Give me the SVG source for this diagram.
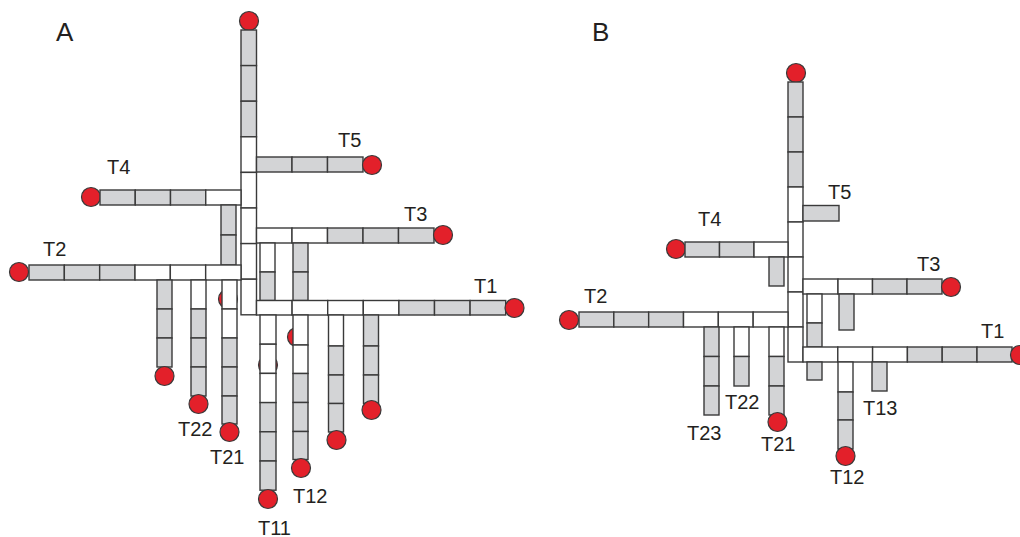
<svg xmlns="http://www.w3.org/2000/svg" width="1020" height="537" viewBox="0 0 1020 537">
<style>
.g{fill:#d3d4d6;stroke:#3a3a3a;stroke-width:1.4}
.w{fill:#ffffff;stroke:#3a3a3a;stroke-width:1.4}
.d{fill:#e3202a;stroke:#3a3a3a;stroke-width:1.2}
.t{font-family:"Liberation Sans",Arial,sans-serif;font-size:20px;fill:#231f20}
.p{font-family:"Liberation Sans",Arial,sans-serif;font-size:26px;fill:#231f20}
</style>
<rect width="1020" height="537" fill="#fff"/>
<text class="p" x="56" y="41">A</text>
<text class="p" x="592" y="41">B</text>

<!-- ================= PANEL A ================= -->
<g id="A-hidden-dots">
<circle class="d" cx="228" cy="299" r="9.5"/>
<circle class="d" cx="268" cy="365" r="9.5"/>
<circle class="d" cx="297" cy="337" r="9.5"/>
</g>
<g id="A-trunk">
<circle class="d" cx="249" cy="21" r="9.5"/>
<rect class="g" x="241" y="30" width="15.5" height="35.6"/>
<rect class="g" x="241" y="65.6" width="15.5" height="35.6"/>
<rect class="g" x="241" y="101.2" width="15.5" height="35.6"/>
<rect class="w" x="241" y="136.8" width="15.5" height="35.6"/>
<rect class="w" x="241" y="172.4" width="15.5" height="35.6"/>
<rect class="w" x="241" y="208" width="15.5" height="35.6"/>
<rect class="w" x="241" y="243.6" width="15.5" height="35.6"/>
<rect class="w" x="241" y="279.2" width="15.5" height="35.6"/>
</g>
<g id="A-T5">
<rect class="g" x="256.5" y="157" width="35.5" height="15"/>
<rect class="g" x="292" y="157" width="35.5" height="15"/>
<rect class="g" x="327.5" y="157" width="35.5" height="15"/>
<circle class="d" cx="372" cy="165" r="9.5"/>
<text class="t" x="338" y="147">T5</text>
</g>
<g id="A-T3">
<rect class="w" x="256.5" y="228" width="35.5" height="15"/>
<rect class="w" x="292" y="228" width="35.5" height="15"/>
<rect class="g" x="327.5" y="228" width="35.5" height="15"/>
<rect class="g" x="363" y="228" width="35.5" height="15"/>
<rect class="g" x="398.5" y="228" width="35.5" height="15"/>
<circle class="d" cx="443" cy="235" r="9.5"/>
<text class="t" x="404" y="221">T3</text>
<rect class="w" x="260" y="243" width="15" height="29"/>
<rect class="g" x="260" y="272" width="15" height="28.5"/>
<rect class="g" x="293" y="243" width="15" height="29"/>
<rect class="g" x="293" y="272" width="15" height="28.5"/>
</g>
<g id="A-T4">
<circle class="d" cx="91" cy="197" r="9.5"/>
<rect class="g" x="100" y="190" width="35.25" height="15"/>
<rect class="g" x="135.25" y="190" width="35.25" height="15"/>
<rect class="g" x="170.5" y="190" width="35.25" height="15"/>
<rect class="w" x="205.75" y="190" width="35.25" height="15"/>
<text class="t" x="107" y="174">T4</text>
<rect class="g" x="221" y="205" width="15" height="30"/>
<rect class="g" x="221" y="235" width="15" height="30"/>
</g>
<g id="A-T2">
<circle class="d" cx="19" cy="272" r="9.5"/>
<rect class="g" x="29" y="265" width="35.33" height="15"/>
<rect class="g" x="64.33" y="265" width="35.33" height="15"/>
<rect class="g" x="99.67" y="265" width="35.33" height="15"/>
<rect class="w" x="135" y="265" width="35.33" height="15"/>
<rect class="w" x="170.33" y="265" width="35.33" height="15"/>
<rect class="w" x="205.67" y="265" width="35.33" height="15"/>
<text class="t" x="43" y="256">T2</text>
</g>
<g id="A-V1">
<rect class="g" x="157" y="280" width="15" height="29"/>
<rect class="g" x="157" y="309" width="15" height="29"/>
<rect class="g" x="157" y="338" width="15" height="29"/>
<circle class="d" cx="164.5" cy="376" r="9.5"/>
</g>
<g id="A-T22">
<rect class="w" x="191" y="280" width="15" height="29"/>
<rect class="g" x="191" y="309" width="15" height="29"/>
<rect class="g" x="191" y="338" width="15" height="29"/>
<rect class="g" x="191" y="367" width="15" height="29"/>
<circle class="d" cx="198.5" cy="404" r="9.5"/>
<text class="t" x="178" y="436">T22</text>
</g>
<g id="A-T21">
<rect class="w" x="222" y="280" width="15" height="29"/>
<rect class="w" x="222" y="309" width="15" height="29"/>
<rect class="g" x="222" y="338" width="15" height="29"/>
<rect class="g" x="222" y="367" width="15" height="29"/>
<rect class="g" x="222" y="396" width="15" height="28"/>
<circle class="d" cx="229.5" cy="432" r="9.5"/>
<text class="t" x="210" y="464">T21</text>
</g>
<g id="A-T1">
<rect class="w" x="256.5" y="300.5" width="35.6" height="14.5"/>
<rect class="w" x="292.1" y="300.5" width="35.6" height="14.5"/>
<rect class="w" x="327.7" y="300.5" width="35.6" height="14.5"/>
<rect class="w" x="363.3" y="300.5" width="35.6" height="14.5"/>
<rect class="g" x="398.9" y="300.5" width="35.6" height="14.5"/>
<rect class="g" x="434.5" y="300.5" width="35.6" height="14.5"/>
<rect class="g" x="470.1" y="300.5" width="35.6" height="14.5"/>
<circle class="d" cx="514.5" cy="308" r="9.5"/>
<text class="t" x="474" y="293">T1</text>
</g>
<g id="A-T11">
<rect class="w" x="260" y="315" width="16" height="29.2"/>
<rect class="w" x="260" y="344.2" width="16" height="29.2"/>
<rect class="w" x="260" y="373.4" width="16" height="29.2"/>
<rect class="g" x="260" y="402.6" width="16" height="29.2"/>
<rect class="g" x="260" y="431.8" width="16" height="29.2"/>
<rect class="g" x="260" y="461" width="16" height="29.2"/>
<circle class="d" cx="268" cy="499" r="9.5"/>
<text class="t" x="258" y="535">T11</text>
</g>
<g id="A-T12">
<rect class="w" x="293" y="315" width="15" height="30"/>
<rect class="w" x="293" y="345" width="15" height="28.5"/>
<rect class="g" x="293" y="373.5" width="15" height="29"/>
<rect class="g" x="293" y="402.5" width="15" height="29"/>
<rect class="g" x="293" y="431.5" width="15" height="28"/>
<circle class="d" cx="301" cy="468" r="9.5"/>
<text class="t" x="293" y="503">T12</text>
</g>
<g id="A-V6">
<rect class="w" x="328.5" y="315" width="15" height="31"/>
<rect class="g" x="328.5" y="346" width="15" height="29"/>
<rect class="g" x="328.5" y="375" width="15" height="28.5"/>
<rect class="g" x="328.5" y="403.5" width="15" height="28.5"/>
<circle class="d" cx="336.5" cy="440" r="9.5"/>
</g>
<g id="A-V7">
<rect class="g" x="363.5" y="315" width="15" height="31"/>
<rect class="g" x="363.5" y="346" width="15" height="29"/>
<rect class="g" x="363.5" y="375" width="15" height="28.5"/>
<circle class="d" cx="371.5" cy="410" r="9.5"/>
</g>

<!-- ================= PANEL B ================= -->
<g id="B-trunk">
<circle class="d" cx="796" cy="73" r="9.5"/>
<rect class="g" x="788" y="82" width="15" height="35"/>
<rect class="g" x="788" y="117" width="15" height="35"/>
<rect class="g" x="788" y="152" width="15" height="35"/>
<rect class="w" x="788" y="187" width="15" height="35"/>
<rect class="w" x="788" y="222" width="15" height="35"/>
<rect class="w" x="788" y="257" width="15" height="35"/>
<rect class="w" x="788" y="292" width="15" height="35"/>
<rect class="w" x="788" y="327" width="15" height="35"/>
</g>
<g id="B-T5">
<rect class="g" x="803" y="205.5" width="36" height="15.5"/>
<text class="t" x="828" y="199">T5</text>
</g>
<g id="B-T4">
<circle class="d" cx="676" cy="249" r="9.5"/>
<rect class="g" x="685" y="242" width="34.5" height="15"/>
<rect class="g" x="719.5" y="242" width="34.5" height="15"/>
<rect class="w" x="754" y="242" width="34" height="15"/>
<rect class="g" x="769" y="257" width="15" height="29"/>
<text class="t" x="698" y="226">T4</text>
</g>
<g id="B-T2">
<circle class="d" cx="569" cy="320" r="9.5"/>
<rect class="g" x="579" y="312" width="34.83" height="15"/>
<rect class="g" x="613.83" y="312" width="34.83" height="15"/>
<rect class="g" x="648.67" y="312" width="34.83" height="15"/>
<rect class="w" x="683.5" y="312" width="34.83" height="15"/>
<rect class="w" x="718.33" y="312" width="34.83" height="15"/>
<rect class="w" x="753.17" y="312" width="34.83" height="15"/>
<text class="t" x="584" y="303">T2</text>
</g>
<g id="B-T23">
<rect class="g" x="704" y="327" width="15" height="29.5"/>
<rect class="g" x="704" y="356.5" width="15" height="29.5"/>
<rect class="g" x="704" y="386" width="15" height="29"/>
<text class="t" x="687" y="440">T23</text>
</g>
<g id="B-T22">
<rect class="w" x="734" y="327" width="15" height="29.5"/>
<rect class="g" x="734" y="356.5" width="15" height="29.5"/>
<text class="t" x="725" y="409">T22</text>
</g>
<g id="B-T21">
<rect class="w" x="769" y="327" width="15" height="29.5"/>
<rect class="g" x="769" y="356.5" width="15" height="29.5"/>
<rect class="g" x="769" y="386" width="15" height="29"/>
<circle class="d" cx="777.5" cy="422" r="9.5"/>
<text class="t" x="761" y="451">T21</text>
</g>
<g id="B-T3">
<rect class="w" x="803" y="279" width="35" height="15"/>
<rect class="w" x="838" y="279" width="34.5" height="15"/>
<rect class="g" x="872.5" y="279" width="34.5" height="15"/>
<rect class="g" x="907" y="279" width="35" height="15"/>
<circle class="d" cx="951" cy="287" r="9.5"/>
<text class="t" x="917" y="271">T3</text>
<rect class="w" x="807" y="294" width="15" height="29"/>
<rect class="g" x="807" y="323" width="15" height="24"/>
<rect class="g" x="839" y="294" width="15" height="36"/>
</g>
<g id="B-T1">
<rect class="w" x="803" y="347" width="34.8" height="15"/>
<rect class="w" x="837.8" y="347" width="34.8" height="15"/>
<rect class="w" x="872.6" y="347" width="34.8" height="15"/>
<rect class="g" x="907.4" y="347" width="34.8" height="15"/>
<rect class="g" x="942.2" y="347" width="34.8" height="15"/>
<rect class="g" x="977" y="347" width="35" height="15"/>
<circle class="d" cx="1020" cy="355" r="9.5"/>
<text class="t" x="981" y="338">T1</text>
<rect class="g" x="807" y="362" width="15" height="18"/>
</g>
<g id="B-T12">
<rect class="w" x="838" y="362" width="15" height="30"/>
<rect class="g" x="838" y="392" width="15" height="28"/>
<rect class="g" x="838" y="420" width="15" height="29"/>
<circle class="d" cx="845.5" cy="456" r="9.5"/>
<text class="t" x="830" y="484">T12</text>
</g>
<g id="B-T13">
<rect class="g" x="872" y="362" width="15" height="29"/>
<text class="t" x="863" y="415">T13</text>
</g>
<g id="connectors"/>
</svg>
